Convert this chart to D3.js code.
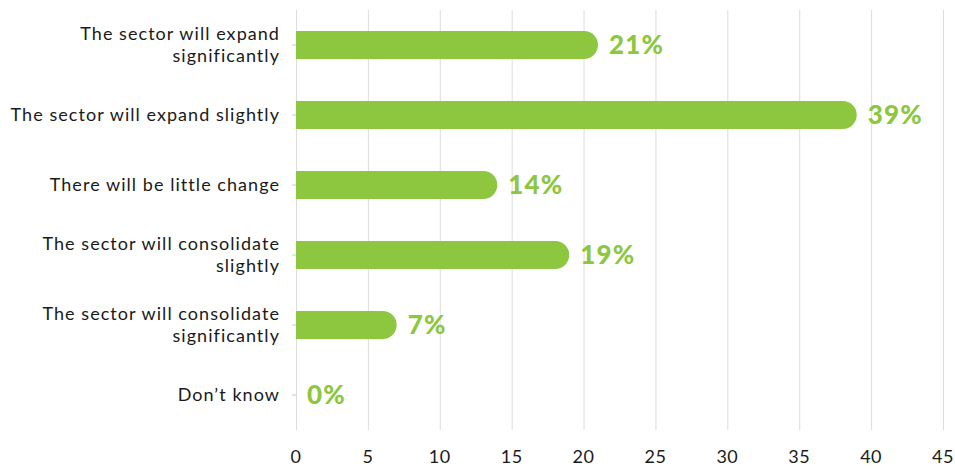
<!DOCTYPE html>
<html>
<head>
<meta charset="utf-8">
<script src="https://cdn.jsdelivr.net/npm/d3@7"></script>
<style>
  html, body { margin: 0; padding: 0; background: #fff; }
  svg { display: block; }
</style>
</head>
<body>
<svg id="chart" width="955" height="469"></svg>
<script>
// Survey responses: expected change in the sector
const categories = [
  ["The sector will expand", "significantly"],
  ["The sector will expand slightly"],
  ["There will be little change"],
  ["The sector will consolidate", "slightly"],
  ["The sector will consolidate", "significantly"],
  ["Don\u2019t know"]
];
const values = [21, 39, 14, 19, 7, 0];
const xTicks = [0, 5, 10, 15, 20, 25, 30, 35, 40, 45];

const svg = d3.select("#chart");
const margin = { top: 10, left: 296, right: 12, bottom: 39 };
const width = 955, height = 469;
const innerBottom = height - margin.bottom;

const x = d3.scaleLinear().domain([0, 45]).range([margin.left, 943]);
const y = d3.scaleBand()
  .domain(d3.range(categories.length))
  .range([margin.top, innerBottom])
  .paddingInner(0.6)
  .paddingOuter(0.3);

const green = "#8dc63f";

// vertical gridlines
svg.append("g")
  .selectAll("line")
  .data(xTicks)
  .join("line")
  .attr("x1", d => x(d) + 0.5)
  .attr("x2", d => x(d) + 0.5)
  .attr("y1", margin.top)
  .attr("y2", innerBottom)
  .attr("stroke", "#dcdcdc")
  .attr("stroke-width", 1);

// x-axis tick labels
svg.append("g")
  .selectAll("text")
  .data(xTicks)
  .join("text")
  .attr("x", d => x(d))
  .attr("y", 463)
  .attr("text-anchor", "middle")
  .attr("font-family", "Lato, sans-serif")
  .attr("font-size", 18)
  .attr("letter-spacing", 0.5)
  .attr("fill", "#1a1a1a")
  .text(d => d);

// small category ticks on the value axis
svg.append("g")
  .selectAll("line")
  .data(d3.range(categories.length))
  .join("line")
  .attr("x1", margin.left - 4)
  .attr("x2", margin.left)
  .attr("y1", i => y(i) + y.bandwidth() / 2)
  .attr("y2", i => y(i) + y.bandwidth() / 2)
  .attr("stroke", "#c8c8c8");

// bars: flat left edge, rounded right end
const bh = y.bandwidth();
const r = bh / 2;
function barPath(v, i) {
  const x0 = x(0), x1 = x(v), y0 = y(i);
  if (x1 - x0 <= 0) return "";
  const rr = Math.min(r, x1 - x0);
  return `M${x0},${y0} H${x1 - rr} A${rr},${r} 0 0 1 ${x1},${y0 + r} A${rr},${r} 0 0 1 ${x1 - rr},${y0 + bh} H${x0} Z`;
}
svg.append("g")
  .selectAll("path")
  .data(values)
  .join("path")
  .attr("d", (v, i) => barPath(v, i))
  .attr("fill", green);

// value labels
svg.append("g")
  .selectAll("text")
  .data(values)
  .join("text")
  .attr("x", v => x(v) + 11)
  .attr("y", (v, i) => y(i) + bh / 2)
  .attr("dy", "0.36em")
  .attr("font-family", "Lato, sans-serif")
  .attr("font-weight", 900)
  .attr("font-size", 26)
  .attr("letter-spacing", 1.2)
  .attr("fill", green)
  .text(v => v + "%");

// category labels (right-aligned, wrapped)
const lab = svg.append("g")
  .selectAll("text")
  .data(categories)
  .join("text")
  .attr("text-anchor", "end")
  .attr("font-family", "Lato, sans-serif")
  .attr("font-size", 18)
  .attr("letter-spacing", 1.05)
  .attr("fill", "#1a1a1a")
  .attr("transform", (d, i) => `translate(280,${y(i) + bh / 2})`);
const lh = 22;
lab.each(function (lines) {
  const t = d3.select(this);
  const off = -(lines.length - 1) * lh / 2;
  lines.forEach((s, k) => {
    t.append("tspan")
      .attr("x", 0)
      .attr("y", off + k * lh)
      .attr("dy", "0.35em")
      .text(s);
  });
});
</script>
</body>
</html>
